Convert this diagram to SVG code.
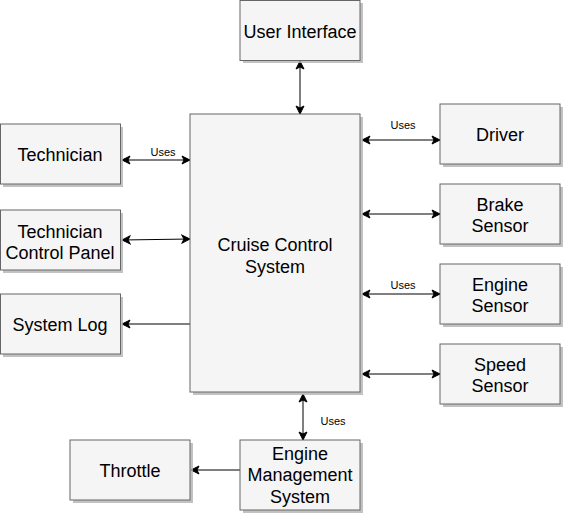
<svg xmlns="http://www.w3.org/2000/svg" width="564" height="515" viewBox="0 0 564 515">
<defs>
<marker id="ah" viewBox="0 0 10 10" refX="9" refY="5" markerWidth="10" markerHeight="10" markerUnits="userSpaceOnUse" orient="auto-start-reverse">
<path d="M1,1 L9,5 L1,9 L3,5 Z" fill="#000" stroke="#000" stroke-width="1"/>
</marker>
</defs>
<style>
.sh{fill:#b3b3b3;opacity:0.8}
.bx{fill:#f5f5f5;stroke:#666666;stroke-width:1}
.t{font-family:"Liberation Sans",Arial,sans-serif;font-size:18px;fill:#000;text-anchor:middle}
.l{font-family:"Liberation Sans",Arial,sans-serif;font-size:11px;fill:#000;text-anchor:middle}
.c{fill:none;stroke:#000;stroke-width:1}
</style>
<g id="connectors">
<line class="c" x1="122" y1="160" x2="190" y2="160" stroke-width="1.5" marker-start="url(#ah)" marker-end="url(#ah)"/>
<text class="l" x="163" y="156">Uses</text>
<line class="c" x1="122" y1="240" x2="190" y2="239" marker-start="url(#ah)" marker-end="url(#ah)"/>
<line class="c" x1="190" y1="324" x2="122" y2="324" marker-end="url(#ah)"/>
<line class="c" x1="300" y1="61" x2="300" y2="114" marker-start="url(#ah)" marker-end="url(#ah)"/>
<line class="c" x1="362" y1="140" x2="440" y2="140" stroke-width="1.6" marker-start="url(#ah)" marker-end="url(#ah)"/>
<text class="l" x="403" y="129">Uses</text>
<line class="c" x1="362" y1="214" x2="440" y2="214" marker-start="url(#ah)" marker-end="url(#ah)"/>
<line class="c" x1="362" y1="294" x2="440" y2="294" marker-start="url(#ah)" marker-end="url(#ah)"/>
<text class="l" x="403" y="289">Uses</text>
<line class="c" x1="362" y1="374" x2="440" y2="374" marker-start="url(#ah)" marker-end="url(#ah)"/>
<line class="c" x1="303" y1="394" x2="303" y2="440" marker-start="url(#ah)" marker-end="url(#ah)"/>
<text class="l" x="333" y="425">Uses</text>
<line class="c" x1="240" y1="470" x2="191" y2="470" marker-end="url(#ah)"/>
</g>
<g id="user-interface">
<rect class="sh" x="243" y="3" width="120" height="60"/>
<rect class="bx" x="240" y="0.5" width="120" height="60"/>
<text class="t" x="300" y="37.5">User Interface</text>
</g>
<g id="cruise-control-system">
<rect class="sh" x="193" y="117" width="170" height="278"/>
<rect class="bx" x="190" y="114" width="170" height="278"/>
<text class="t" x="275" y="250.5">Cruise Control</text>
<text class="t" x="275" y="272.5">System</text>
</g>
<g id="technician">
<rect class="sh" x="3" y="127" width="120" height="60"/>
<rect class="bx" x="0.5" y="124" width="120" height="60"/>
<text class="t" x="60" y="161">Technician</text>
</g>
<g id="technician-control-panel">
<rect class="sh" x="3" y="213" width="120" height="60"/>
<rect class="bx" x="0.5" y="210" width="120" height="60"/>
<text class="t" x="60" y="237.5">Technician</text>
<text class="t" x="60" y="259">Control Panel</text>
</g>
<g id="system-log">
<rect class="sh" x="3" y="297" width="120" height="60"/>
<rect class="bx" x="0.5" y="294" width="120" height="60"/>
<text class="t" x="60" y="330.5">System Log</text>
</g>
<g id="driver">
<rect class="sh" x="443" y="107" width="120" height="60"/>
<rect class="bx" x="440" y="104" width="120" height="60"/>
<text class="t" x="500" y="141">Driver</text>
</g>
<g id="brake-sensor">
<rect class="sh" x="443" y="187" width="120" height="60"/>
<rect class="bx" x="440" y="184" width="120" height="60"/>
<text class="t" x="500" y="211">Brake</text>
<text class="t" x="500" y="232">Sensor</text>
</g>
<g id="engine-sensor">
<rect class="sh" x="443" y="267" width="120" height="60"/>
<rect class="bx" x="440" y="264" width="120" height="60"/>
<text class="t" x="500" y="291">Engine</text>
<text class="t" x="500" y="312">Sensor</text>
</g>
<g id="speed-sensor">
<rect class="sh" x="443" y="347" width="120" height="60"/>
<rect class="bx" x="440" y="344" width="120" height="60"/>
<text class="t" x="500" y="371">Speed</text>
<text class="t" x="500" y="392">Sensor</text>
</g>
<g id="engine-management-system">
<rect class="sh" x="243" y="443" width="120" height="70"/>
<rect class="bx" x="240" y="440" width="120" height="70"/>
<text class="t" x="300" y="459.5">Engine</text>
<text class="t" x="300" y="481">Management</text>
<text class="t" x="300" y="502.5">System</text>
</g>
<g id="throttle">
<rect class="sh" x="73" y="443" width="120" height="60"/>
<rect class="bx" x="70" y="440" width="120" height="60"/>
<text class="t" x="130" y="477">Throttle</text>
</g>
</svg>
